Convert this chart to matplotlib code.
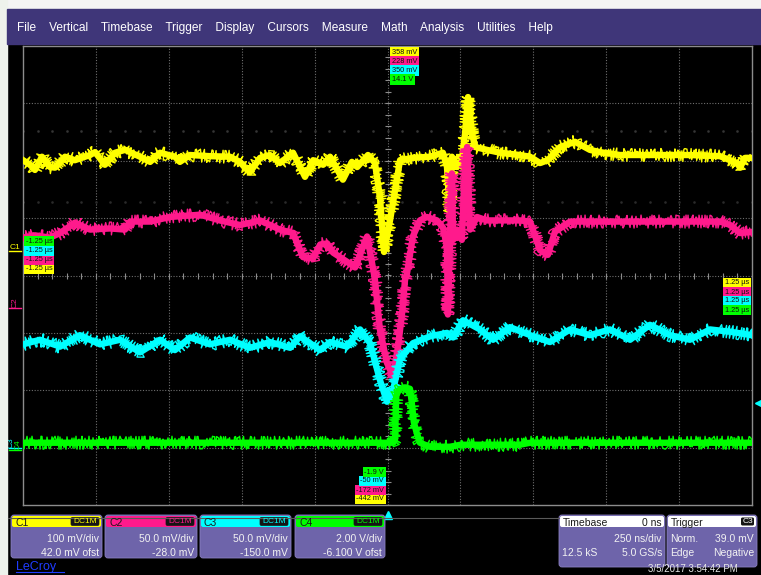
import matplotlib.pyplot as plt
import numpy as np
from matplotlib.patches import FancyBboxPatch, Rectangle
from matplotlib.transforms import blended_transform_factory

plt.rcParams["font.family"] = ["Liberation Sans", "DejaVu Sans"]

W, H = 761, 575

# Horizontal: 10 divisions at 250 ns/div, trigger in the middle
ns_per_div = 250
n_xdiv, n_ydiv = 10, 8

ch_names = ["C1", "C2", "C3", "C4"]
ch_colors = ["#ffff00", "#ff1a8c", "#00ffff", "#00ff00"]
ch_scale = [100.0, 50.0, 50.0, 2.0]  # units per division
ch_offset = [42.0, -28.0, -150.0, -6.1]
ch_unit = ["mV", "mV", "mV", "V"]
ch_scale_text = ["100 mV/div", "50.0 mV/div", "50.0 mV/div", "2.00 V/div"]
ch_offset_text = ["42.0 mV ofst", "-28.0 mV", "-150.0 mV", "-6.100 V ofst"]

# C1 (mV) vs time (ns)
c1_t = [-1250, -1226, -1209, -1185, -1157, -1140, -1106, -1072, -1020, -1003,
        -969, -934, -900, -849, -814, -780, -729, -712, -677, -609, -540, -506,
        -489, -472, -437, -403, -369, -324, -283, -255, -221, -197, -153, -122,
        -104, -67, -43, -26, -12, 9, 26, 43, 87, 146, 190, 204, 214, 221, 238,
        255, 266, 276, 290, 300, 341, 386, 454, 489, 523, 550, 592, 643, 694,
        729, 797, 1037, 1140, 1199, 1209, 1226, 1250]
c1_v = [159, 151, 142, 165, 147, 146, 165, 159, 168, 173,
        151, 172, 177, 165, 156, 172, 165, 156, 168, 166, 165, 156,
        146, 138, 163, 168, 154, 172, 130, 159, 151, 165, 125, 156,
        147, 168, 154, 95, -1, 55, 107, 159, 163, 165, 172, 147, 67, 165, 147,
        159, 206, 269, 206, 182, 177, 172, 168, 165, 154, 159, 182, 191, 177,
        173, 168, 168, 166, 154, 146, 163, 163]

# C2 (mV)
c2_t = [-1250, -1209, -1157, -1123, -1072, -1020, -952, -900, -883, -814, -746,
        -643, -575, -506, -437, -369, -324, -290, -255, -231, -207, -187, -139,
        -111, -70, -53, -43, -26, -2, 19, 36, 50, 60, 67, 87, 111, 135, 170,
        190, 204, 207, 214, 221, 225, 238, 255, 266, 273, 283, 307, 341, 454,
        489, 523, 550, 574, 626, 866, 1140, 1175, 1209, 1250]
c2_v = [61, 63, 61, 65, 74, 68, 69, 68, 75, 75, 79,
        81, 76, 72, 76, 68, 65, 44, 43, 55, 56, 48, 40,
        35, 62, 39, 24, -19, -48, -60, -34, -5, 24, 30, 62, 76, 79, 76,
        70, 53, -6, 55, 117, 59, 68, 59, 126, 140, 68, 79, 76, 76,
        75, 50, 46, 66, 75, 75, 75, 72, 65, 66]

# C3 (mV)
c3_t = [-1250, -1192, -1123, -1055, -986, -917, -849, -780, -729, -677, -609,
        -540, -472, -403, -334, -300, -231, -197, -139, -94, -60, -26, -2, 19,
        43, 87, 146, 204, 225, 259, 317, 362, 420, 489, 557, 626, 694, 763,
        832, 900, 969, 1037, 1106, 1175, 1250]
c3_v = [90, 94, 88, 98, 90, 94, 83, 94, 85, 96, 90,
        94, 87, 92, 87, 97, 85, 92, 88, 103, 91, 59, 40, 50,
        77, 91, 97, 100, 96, 111, 103, 94, 105, 98, 92, 103, 98, 103,
        94, 107, 98, 94, 103, 101, 98]

# C4 (V)
c4_t = [-1250, -600, 20, 26, 30, 36, 45, 60, 77, 83, 90, 100, 111, 146, 214,
        250, 454, 489, 1250]
c4_v = [0.27, 0.27, 0.27, 0.4, 1.9, 2.05, 2.15, 2.2, 2.15, 1.7, 1.0, 0.62,
        0.27, 0.13, 0.13, 0.2, 0.2, 0.27, 0.27]

traces = [(c1_t, c1_v), (c2_t, c2_v), (c3_t, c3_v), (c4_t, c4_v)]

trig_channel = 2
trig_level = 39.0  # mV on C3

menu_items = ["File", "Vertical", "Timebase", "Trigger", "Display", "Cursors",
              "Measure", "Math", "Analysis", "Utilities", "Help"]

PURPLE = "#3f3679"
PANEL = "#6e64aa"
GRID = "#6e6e6e"


def px_rect(x0, y0, x1, y1):
    return [x0 / W, 1 - y1 / H, (x1 - x0) / W, (y1 - y0) / H]


fig = plt.figure(figsize=(W / 100, H / 100), dpi=100, facecolor="black")

# ---- graticule ----
screen = px_rect(23, 46, 752, 505)
t_half = n_xdiv / 2 * ns_per_div
gax = fig.add_axes(screen, facecolor="black")
gax.set_xlim(-t_half, t_half)
gax.set_ylim(-n_ydiv / 2, n_ydiv / 2)
gax.set_xticks([])
gax.set_yticks([])
for sp in gax.spines.values():
    sp.set_color("#8c8c8c")
    sp.set_linewidth(1.0)
for k in range(1, n_xdiv):
    gax.axvline(-t_half + k * ns_per_div, color=GRID, lw=0.8, ls=(0, (1, 1.5)))
for k in range(1, n_ydiv):
    gax.axhline(-n_ydiv / 2 + k, color=GRID, lw=0.8, ls=(0, (1, 1.5)))
minor_t = np.arange(-t_half, t_half + 1, ns_per_div / 5)
minor_y = np.arange(-n_ydiv / 2, n_ydiv / 2 + 0.01, 0.2)
gax.plot(minor_t, np.zeros_like(minor_t), ls="none", marker="|", ms=4,
         mew=0.8, color="#8c8c8c")
gax.plot(np.zeros_like(minor_y), minor_y, ls="none", marker="_", ms=4,
         mew=0.8, color="#8c8c8c")
for row, shade in [(2.52, "#353535"), (1.28, "#2a2a2a")]:
    gax.plot(minor_t, np.full_like(minor_t, row), ls="none", marker="s",
             ms=0.8, color=shade)

# trigger position marker under the screen
bt = blended_transform_factory(gax.transData, gax.transAxes)
gax.plot([0], [-10 / 459], marker="^", ms=6, color="#00ffff", transform=bt,
         clip_on=False)

# ---- channel traces ----
limits = []
for i, (t, v) in enumerate(traces):
    ax = fig.add_axes(screen, facecolor="none")
    lo = -n_ydiv / 2 * ch_scale[i] - ch_offset[i]
    hi = n_ydiv / 2 * ch_scale[i] - ch_offset[i]
    limits.append((lo, hi))
    ax.set_xlim(-t_half, t_half)
    ax.set_ylim(lo, hi)
    ax.axis("off")
    ax.plot(t, v, color=ch_colors[i], lw=4.6, solid_joinstyle="round")
    fuzz, = ax.plot(t, v, color=ch_colors[i], lw=1.0)
    fuzz.set_sketch_params(scale=6.5, length=1.2, randomness=4)

    # ground marker to the left of the screen
    gt = blended_transform_factory(ax.transAxes, ax.transData)
    ax.plot([-14 / 729, -2 / 729], [0, 0], color=ch_colors[i], lw=1,
            transform=gt, clip_on=False)
    lx = [-8, -8, -12, -5][i] / 729
    ax.text(lx, 0, ch_names[i], color=ch_colors[i], fontsize=6,
            ha="center", va="bottom", rotation=0 if i == 0 else 90,
            transform=gt, clip_on=False)

    if i == trig_channel:
        ax.plot([1 + 7 / 729], [trig_level], marker="<", ms=6,
                color=ch_colors[i], transform=gt, clip_on=False)

# ---- UI chrome in pixel coordinates ----
ui = fig.add_axes([0, 0, 1, 1])
ui.set_xlim(0, W)
ui.set_ylim(H, 0)
ui.axis("off")
ui.patch.set_alpha(0)
ui.set_zorder(20)

ui.add_patch(Rectangle((0, 0), W, 9, color="#f4f4f4"))
ui.add_patch(Rectangle((0, 0), 7, H, color="#eef2ec"))
ui.add_patch(Rectangle((7, 9), W - 7, 35, color=PURPLE))
ui.text(17, 26, "    ".join(menu_items), color="white", fontsize=8.6,
        va="center_baseline", ha="left")


def tag(x, y, s, color, ha="left"):
    ui.text(x, y, s, fontsize=5.3, color="#111111", ha=ha, va="center",
            bbox=dict(boxstyle="square,pad=0.22", fc=color, ec="none"))


def fmt_level(val, unit):
    return ("{:.0f} " if unit == "mV" else "{:.1f} ").format(val) + unit


tag_tl = "{:.2f} µs".format(-t_half / 1000)
tag_tr = "{:.2f} µs".format(t_half / 1000)
for i in range(4):
    lo, hi = limits[i]
    tag(392, 52.5 + 9 * i, fmt_level(hi, ch_unit[i]), ch_colors[i])
    tag(384, 499 - 9 * i, fmt_level(lo, ch_unit[i]), ch_colors[i], ha="right")
    tag(26, 269 - 9.3 * i, tag_tl, ch_colors[i])
    tag(749, 283 + 9 * i, tag_tr, ch_colors[i], ha="right")

# lower info line behind the boxes
ui.plot([8, 559], [518, 518], color="#5a5a5a", lw=0.8)


def panel(x0, x1, y0, y1, head_color, rows, head_left):
    ui.add_patch(FancyBboxPatch((x0, y0), x1 - x0, y1 - y0,
                                boxstyle="round,pad=0,rounding_size=3",
                                fc=PANEL, ec="#8a80c0", lw=0.6))
    ui.add_patch(FancyBboxPatch((x0 + 1, y0 + 1), x1 - x0 - 2, 11,
                                boxstyle="round,pad=0,rounding_size=2",
                                fc=head_color, ec="none"))
    ui.text(x0 + 4, y0 + 7, head_left, fontsize=7.5, color="#1a1a1a",
            va="center_baseline")
    for j, (left, right) in enumerate(rows):
        yy = y0 + 23 + 13.5 * j
        if left:
            ui.text(x0 + 3, yy, left, fontsize=7.5, color="#f2f2f2",
                    va="center_baseline")
        if right:
            ui.text(x1 - 3, yy, right, fontsize=7.5, color="#f2f2f2",
                    va="center_baseline", ha="right")


box_x = [(11, 102), (105, 197), (200, 291), (295, 385)]
for i, (x0, x1) in enumerate(box_x):
    panel(x0, x1, 515, 558, ch_colors[i],
          [(None, ch_scale_text[i]), (None, ch_offset_text[i])], ch_names[i])
    ui.add_patch(FancyBboxPatch((x1 - 31, 517.5), 28, 8,
                                boxstyle="round,pad=0,rounding_size=1.5",
                                fc="#151515", ec="#151515", lw=0.5))
    ui.text(x1 - 17, 521.8, "DC1M", fontsize=6, color=ch_colors[i],
            ha="center", va="center")

panel(559, 665, 515, 567, "white",
      [(None, "250 ns/div"), ("12.5 kS", "5.0 GS/s")], "Timebase")
ui.text(662, 522, "0 ns", fontsize=7.5, color="#1a1a1a",
        va="center_baseline", ha="right")
panel(667, 757, 515, 567, "white",
      [("Norm.", "{:.1f} mV".format(trig_level)), ("Edge", "Negative")],
      "Trigger")
ui.add_patch(FancyBboxPatch((741, 517.5), 13, 8,
                            boxstyle="round,pad=0,rounding_size=1.5",
                            fc="#151515", ec="none"))
ui.text(747.5, 521.8, "C3", fontsize=6, color="white", ha="center",
        va="center")

ui.text(16, 567, "LeCroy", fontsize=9, color="#1f3cff", va="center")
ui.plot([16, 64], [572, 572], color="#1f3cff", lw=0.8)
ui.text(738, 569, "3/5/2017 3:54:42 PM", fontsize=7, color="#e8e8e8",
        va="center", ha="right")

fig.savefig("out.png", dpi=100, facecolor="black")
